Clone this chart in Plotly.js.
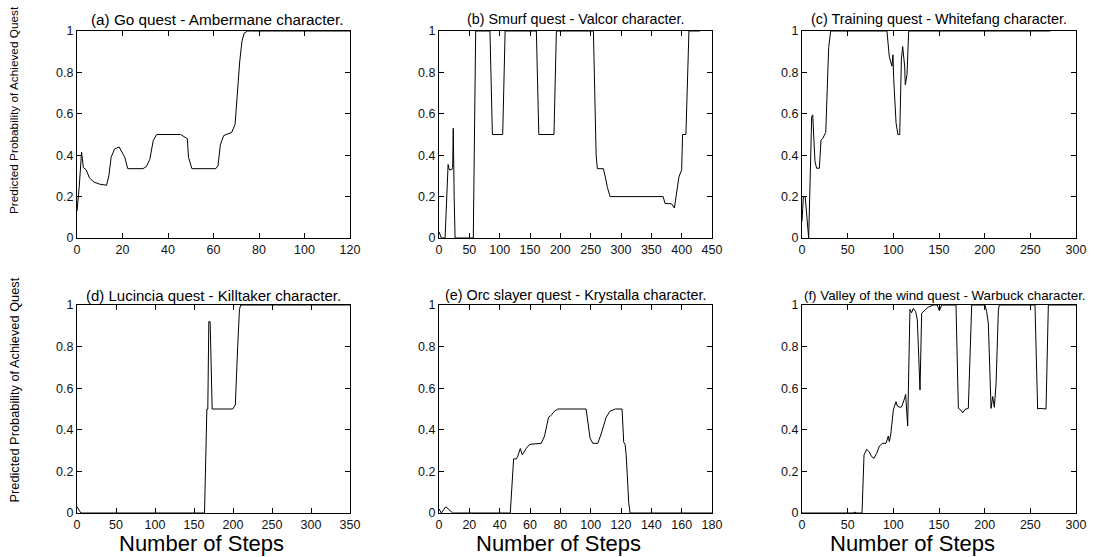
<!DOCTYPE html>
<html>
<head>
<meta charset="utf-8">
<script src="https://cdn.plot.ly/plotly-3.0.1.min.js"></script>
<style>html,body{margin:0;padding:0;background:#fff;}#chart{width:1094px;height:557px;}</style>
</head>
<body>
<div id="chart"></div>
<script>
// ---- data ----
const panelTitles = [
  "(a) Go quest - Ambermane character.",
  "(b) Smurf quest - Valcor character.",
  "(c) Training quest - Whitefang character.",
  "(d) Lucincia quest - Killtaker character.",
  "(e) Orc slayer quest - Krystalla character.",
  "(f) Valley of the wind quest - Warbuck character."
];
const xLabel = "Number of Steps";
const yLabel = "Predicted Probability of Achieved Quest";
const xMax = [120, 450, 300, 350, 180, 300];
const xTickStep = [20, 50, 50, 50, 20, 50];
const yTickVals = [0, 0.2, 0.4, 0.6, 0.8, 1];

const stepsA = [0, 1, 2, 2.8, 4, 5.5, 7.5, 10, 13, 14, 15, 16.5, 18.5, 20, 21, 22.3, 25, 29, 30.5, 32, 33.5, 35, 40, 45.5, 47, 48.5, 49, 50.5, 55, 61, 62, 63, 64.5, 66, 68, 69.5, 70.5, 71.5, 72.5, 73.5, 75, 80, 120];
const probA  = [0.13, 0.25, 0.415, 0.34, 0.33, 0.29, 0.27, 0.26, 0.255, 0.3, 0.39, 0.43, 0.44, 0.41, 0.39, 0.335, 0.335, 0.335, 0.345, 0.38, 0.47, 0.5, 0.5, 0.5, 0.49, 0.48, 0.39, 0.335, 0.335, 0.335, 0.35, 0.45, 0.495, 0.5, 0.51, 0.55, 0.7, 0.85, 0.95, 0.99, 1, 1, 1];

const stepsB = [0, 4, 10, 15, 17, 21, 22.5, 23.5, 25, 26.5, 56.5, 60.5, 84, 86, 88, 105, 107, 109, 160.5, 162.5, 164.5, 189.5, 191.5, 193.5, 254.5, 257, 259, 261, 271, 274.5, 277.5, 282, 369.5, 372.5, 383.5, 388, 391.5, 395.5, 400, 401.5, 407, 409, 412, 430];
const probB  = [0.03, 0, 0, 0.355, 0.33, 0.33, 0.34, 0.53, 0.2, 0, 0, 1, 1, 0.7, 0.5, 0.5, 0.7, 1, 1, 0.7, 0.5, 0.5, 0.7, 1, 1, 0.7, 0.4, 0.335, 0.335, 0.29, 0.245, 0.2, 0.2, 0.167, 0.165, 0.145, 0.21, 0.295, 0.33, 0.5, 0.5, 0.75, 1, 1];

const stepsC = [0, 1.5, 3.5, 5, 7.3, 9, 10.6, 11.7, 13, 14.2, 16, 19, 20.8, 22.6, 26, 27.7, 29.2, 31.4, 93, 95.6, 97, 98.5, 99.6, 100.4, 103, 105, 107, 108.8, 110.2, 112.4, 113.1, 115, 116.8, 272];
const probC  = [0.08, 0.2, 0.2, 0.1, 0, 0.3, 0.585, 0.595, 0.45, 0.37, 0.337, 0.337, 0.473, 0.48, 0.51, 0.71, 0.92, 1, 1, 0.876, 0.85, 0.83, 0.885, 0.77, 0.555, 0.5, 0.5, 0.86, 0.925, 0.83, 0.74, 0.79, 1, 1];

const stepsD = [0, 2, 5, 163.5, 166.5, 167.7, 169, 170.7, 173.3, 199.7, 203, 206, 208.3, 210, 350];
const probD  = [0.03, 0.015, 0, 0, 0.5, 0.5, 0.92, 0.92, 0.5, 0.5, 0.52, 0.8, 0.98, 1, 1];

const stepsE = [0, 1.5, 4.5, 9, 47, 49.2, 51, 51.8, 53.6, 54.9, 57.5, 59.7, 67.4, 69.6, 72.2, 74, 76.2, 78.4, 97, 98.1, 99.6, 101.4, 104.7, 106.9, 110.2, 112.8, 116.3, 120.7, 121.8, 122.7, 123.4, 125.1, 126, 180];
const probE  = [0.02, 0, 0.03, 0, 0, 0.26, 0.26, 0.27, 0.31, 0.28, 0.31, 0.33, 0.335, 0.37, 0.46, 0.47, 0.49, 0.5, 0.5, 0.45, 0.36, 0.335, 0.335, 0.38, 0.46, 0.49, 0.5, 0.5, 0.34, 0.33, 0.28, 0.05, 0, 0];

const stepsF = [0, 56, 58, 60, 65.7, 67.9, 70.8, 73.4, 76.3, 78.8, 81.8, 84.7, 88.3, 92, 94.5, 95.6, 97.1, 100, 102.9, 104.4, 107.3, 109, 111.7, 113.5, 115.7, 118.2, 120, 121.9, 124.5, 126.3, 129.2, 131, 134.7, 138.3, 143.8, 148, 150.4, 153, 168.6, 171.2, 173.8, 176, 178.5, 182.1, 185.8, 200.4, 202.2, 204, 207, 208.8, 210.6, 212.5, 215, 216.1, 255.1, 258, 260.6, 264.2, 267.2, 269.7, 300];
const probF  = [0, 0, 0.004, 0, 0, 0.279, 0.306, 0.295, 0.271, 0.263, 0.287, 0.322, 0.335, 0.335, 0.37, 0.343, 0.375, 0.495, 0.535, 0.514, 0.508, 0.51, 0.543, 0.57, 0.418, 0.979, 0.963, 0.984, 0.968, 0.928, 0.591, 0.96, 0.976, 0.99, 1, 1, 0.973, 1, 1, 0.503, 0.495, 0.482, 0.498, 0.503, 1, 1, 0.968, 0.913, 0.503, 0.56, 0.508, 0.623, 0.976, 1, 1, 0.5, 0.503, 0.5, 0.5, 1, 1];

const allSteps = [stepsA, stepsB, stepsC, stepsD, stepsE, stepsF];
const allProbs = [probA, probB, probC, probD, probE, probF];

// ---- layout (pixel geometry of the reference) ----
const W = 1094, H = 557;
const FONT = "Liberation Sans, Arial, Helvetica, sans-serif";
const colPx = [[77, 350], [439, 712], [802, 1076]];
const rowPx = [[31, 238], [305, 513]];
const titleSize = [15.3, 14.3, 14.4, 15.0, 14.4, 13.3];
const titleShift = [4, 0, 0, 0, 0, 6];

const traces = [];
const layout = {
  width: W, height: H,
  margin: {l: 0, r: 0, t: 0, b: 0},
  paper_bgcolor: "#fff", plot_bgcolor: "#fff",
  showlegend: false,
  annotations: []
};

for (let i = 0; i < 6; i++) {
  const r = Math.floor(i / 3), c = i % 3;
  const sfx = i === 0 ? "" : String(i + 1);
  const xd = [colPx[c][0] / W, colPx[c][1] / W];
  const yd = [1 - rowPx[r][1] / H, 1 - rowPx[r][0] / H];
  const common = {
    showline: true, linecolor: "#000", linewidth: 1, mirror: "allticks",
    ticks: "inside", ticklen: 5, tickcolor: "#000", tickwidth: 1,
    showgrid: false, zeroline: false, fixedrange: true,
    tickfont: {family: FONT, size: 12.5, color: "#111"}
  };
  layout["xaxis" + sfx] = Object.assign({}, common, {
    domain: xd, anchor: "y" + sfx, range: [0, xMax[i]],
    tick0: 0, dtick: xTickStep[i]
  });
  layout["yaxis" + sfx] = Object.assign({}, common, {
    domain: yd, anchor: "x" + sfx, range: [0, 1],
    tickvals: yTickVals, ticktext: yTickVals.map(v => String(v))
  });
  traces.push({
    x: allSteps[i], y: allProbs[i],
    xaxis: "x" + sfx, yaxis: "y" + sfx,
    type: "scatter", mode: "lines",
    line: {color: "#000", width: 1},
    hoverinfo: "skip"
  });
  // panel title
  layout.annotations.push({
    xref: "paper", yref: "paper",
    x: ((colPx[c][0] + colPx[c][1]) / 2 + titleShift[i]) / W, y: 1 - (r === 0 ? 19 : 295) / H,
    xanchor: "center", yanchor: "middle", showarrow: false,
    text: panelTitles[i],
    font: {family: FONT, size: titleSize[i], color: "#000"}
  });
}

// x axis labels under bottom row
const xLabelPx = [201.7, 558.3, 912.5];
xLabelPx.forEach(px => {
  layout.annotations.push({
    xref: "paper", yref: "paper",
    x: px / W, y: 1 - 543 / H,
    xanchor: "center", yanchor: "middle", showarrow: false,
    text: xLabel, font: {family: FONT, size: 22, color: "#000"}
  });
});
// y labels for each row
[[110, 11.8], [390.5, 12.8]].forEach(([py, fs]) => {
  layout.annotations.push({
    xref: "paper", yref: "paper",
    x: 14 / W, y: 1 - py / H,
    xanchor: "center", yanchor: "middle", showarrow: false,
    textangle: -90,
    text: yLabel, font: {family: FONT, size: fs, color: "#000"}
  });
});

Plotly.newPlot("chart", traces, layout, {displayModeBar: false, staticPlot: true});
</script>
</body>
</html>
